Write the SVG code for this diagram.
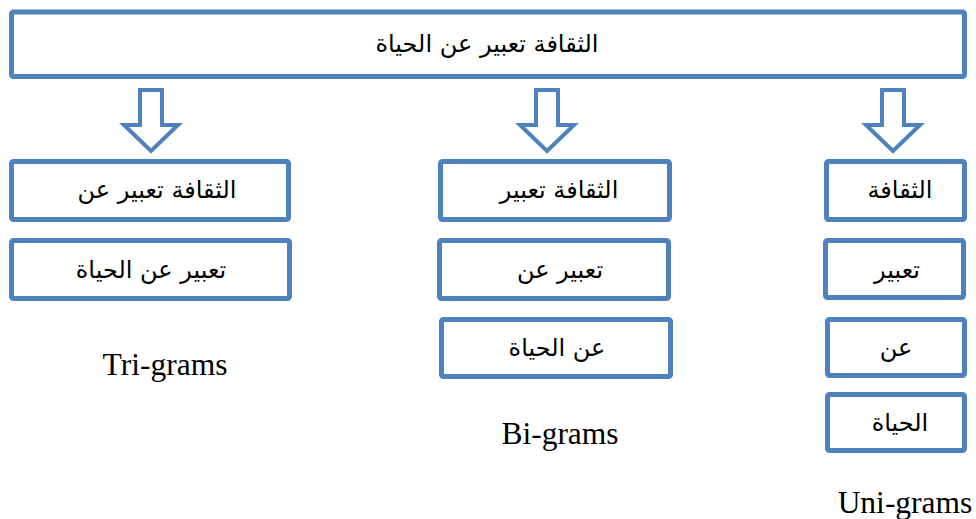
<svg xmlns="http://www.w3.org/2000/svg" width="976" height="519" viewBox="0 0 976 519">
  <style>
    .box { fill: #ffffff; stroke: #4F81BD; stroke-width: 5; }
    .arrow { fill: #ffffff; stroke: #4F81BD; stroke-width: 4; stroke-linejoin: miter; }
    .ar { font-family: "DejaVu Sans", "Noto Sans", sans-serif; font-size: 24px; fill: #000000; text-anchor: middle; }
    .lbl { font-family: "Liberation Serif", "Times New Roman", serif; font-size: 31.5px; fill: #000000; text-anchor: middle; }
  </style>
  <rect width="976" height="519" fill="#ffffff"/>

  <g id="root">
    <rect class="box" x="11.5" y="12" width="953" height="64.5" rx="2"/>
    <text class="ar" x="487" y="52" direction="rtl">الثقافة تعبير عن الحياة</text>
  </g>

  <g id="connectors">
    <path class="arrow" d="M140,90 H162 V125 H178 L151,151 L124,125 H140 Z"/>
    <path class="arrow" d="M536,90 H558 V125 H574 L547,151 L520,125 H536 Z"/>
    <path class="arrow" d="M882,90 H904 V125 H920 L893,151 L866,125 H882 Z"/>
  </g>

  <g id="tri1">
    <rect class="box" x="11.5" y="161.5" width="277" height="58" rx="2"/>
    <text class="ar" x="157" y="198" direction="rtl">الثقافة تعبير عن</text>
  </g>
  <g id="tri2">
    <rect class="box" x="11.5" y="240.5" width="278" height="58" rx="2"/>
    <text class="ar" x="151" y="278" direction="rtl">تعبير عن الحياة</text>
  </g>
  <g id="tri-label">
    <text class="lbl" x="165" y="375">Tri-grams</text>
  </g>

  <g id="bi1">
    <rect class="box" x="440.5" y="161.5" width="229" height="58" rx="2"/>
    <text class="ar" x="559" y="198" direction="rtl">الثقافة تعبير</text>
  </g>
  <g id="bi2">
    <rect class="box" x="439.5" y="240.5" width="229" height="58" rx="2"/>
    <text class="ar" x="560" y="278" direction="rtl">تعبير عن</text>
  </g>
  <g id="bi3">
    <rect class="box" x="441.5" y="319.5" width="229" height="57" rx="2"/>
    <text class="ar" x="557" y="356" direction="rtl">عن الحياة</text>
  </g>
  <g id="bi-label">
    <text class="lbl" x="560" y="444">Bi-grams</text>
  </g>

  <g id="uni1">
    <rect class="box" x="826.5" y="161.5" width="138" height="58" rx="2"/>
    <text class="ar" x="900" y="198" direction="rtl">الثقافة</text>
  </g>
  <g id="uni2">
    <rect class="box" x="825.5" y="240.5" width="138" height="57" rx="2"/>
    <text class="ar" x="897" y="278" direction="rtl">تعبير</text>
  </g>
  <g id="uni3">
    <rect class="box" x="827.5" y="319.5" width="137" height="56" rx="2"/>
    <text class="ar" x="896" y="356" direction="rtl">عن</text>
  </g>
  <g id="uni4">
    <rect class="box" x="827.5" y="394.5" width="137" height="56" rx="2"/>
    <text class="ar" x="900" y="431" direction="rtl">الحياة</text>
  </g>
  <g id="uni-label">
    <text class="lbl" x="905" y="513">Uni-grams</text>
  </g>
</svg>
